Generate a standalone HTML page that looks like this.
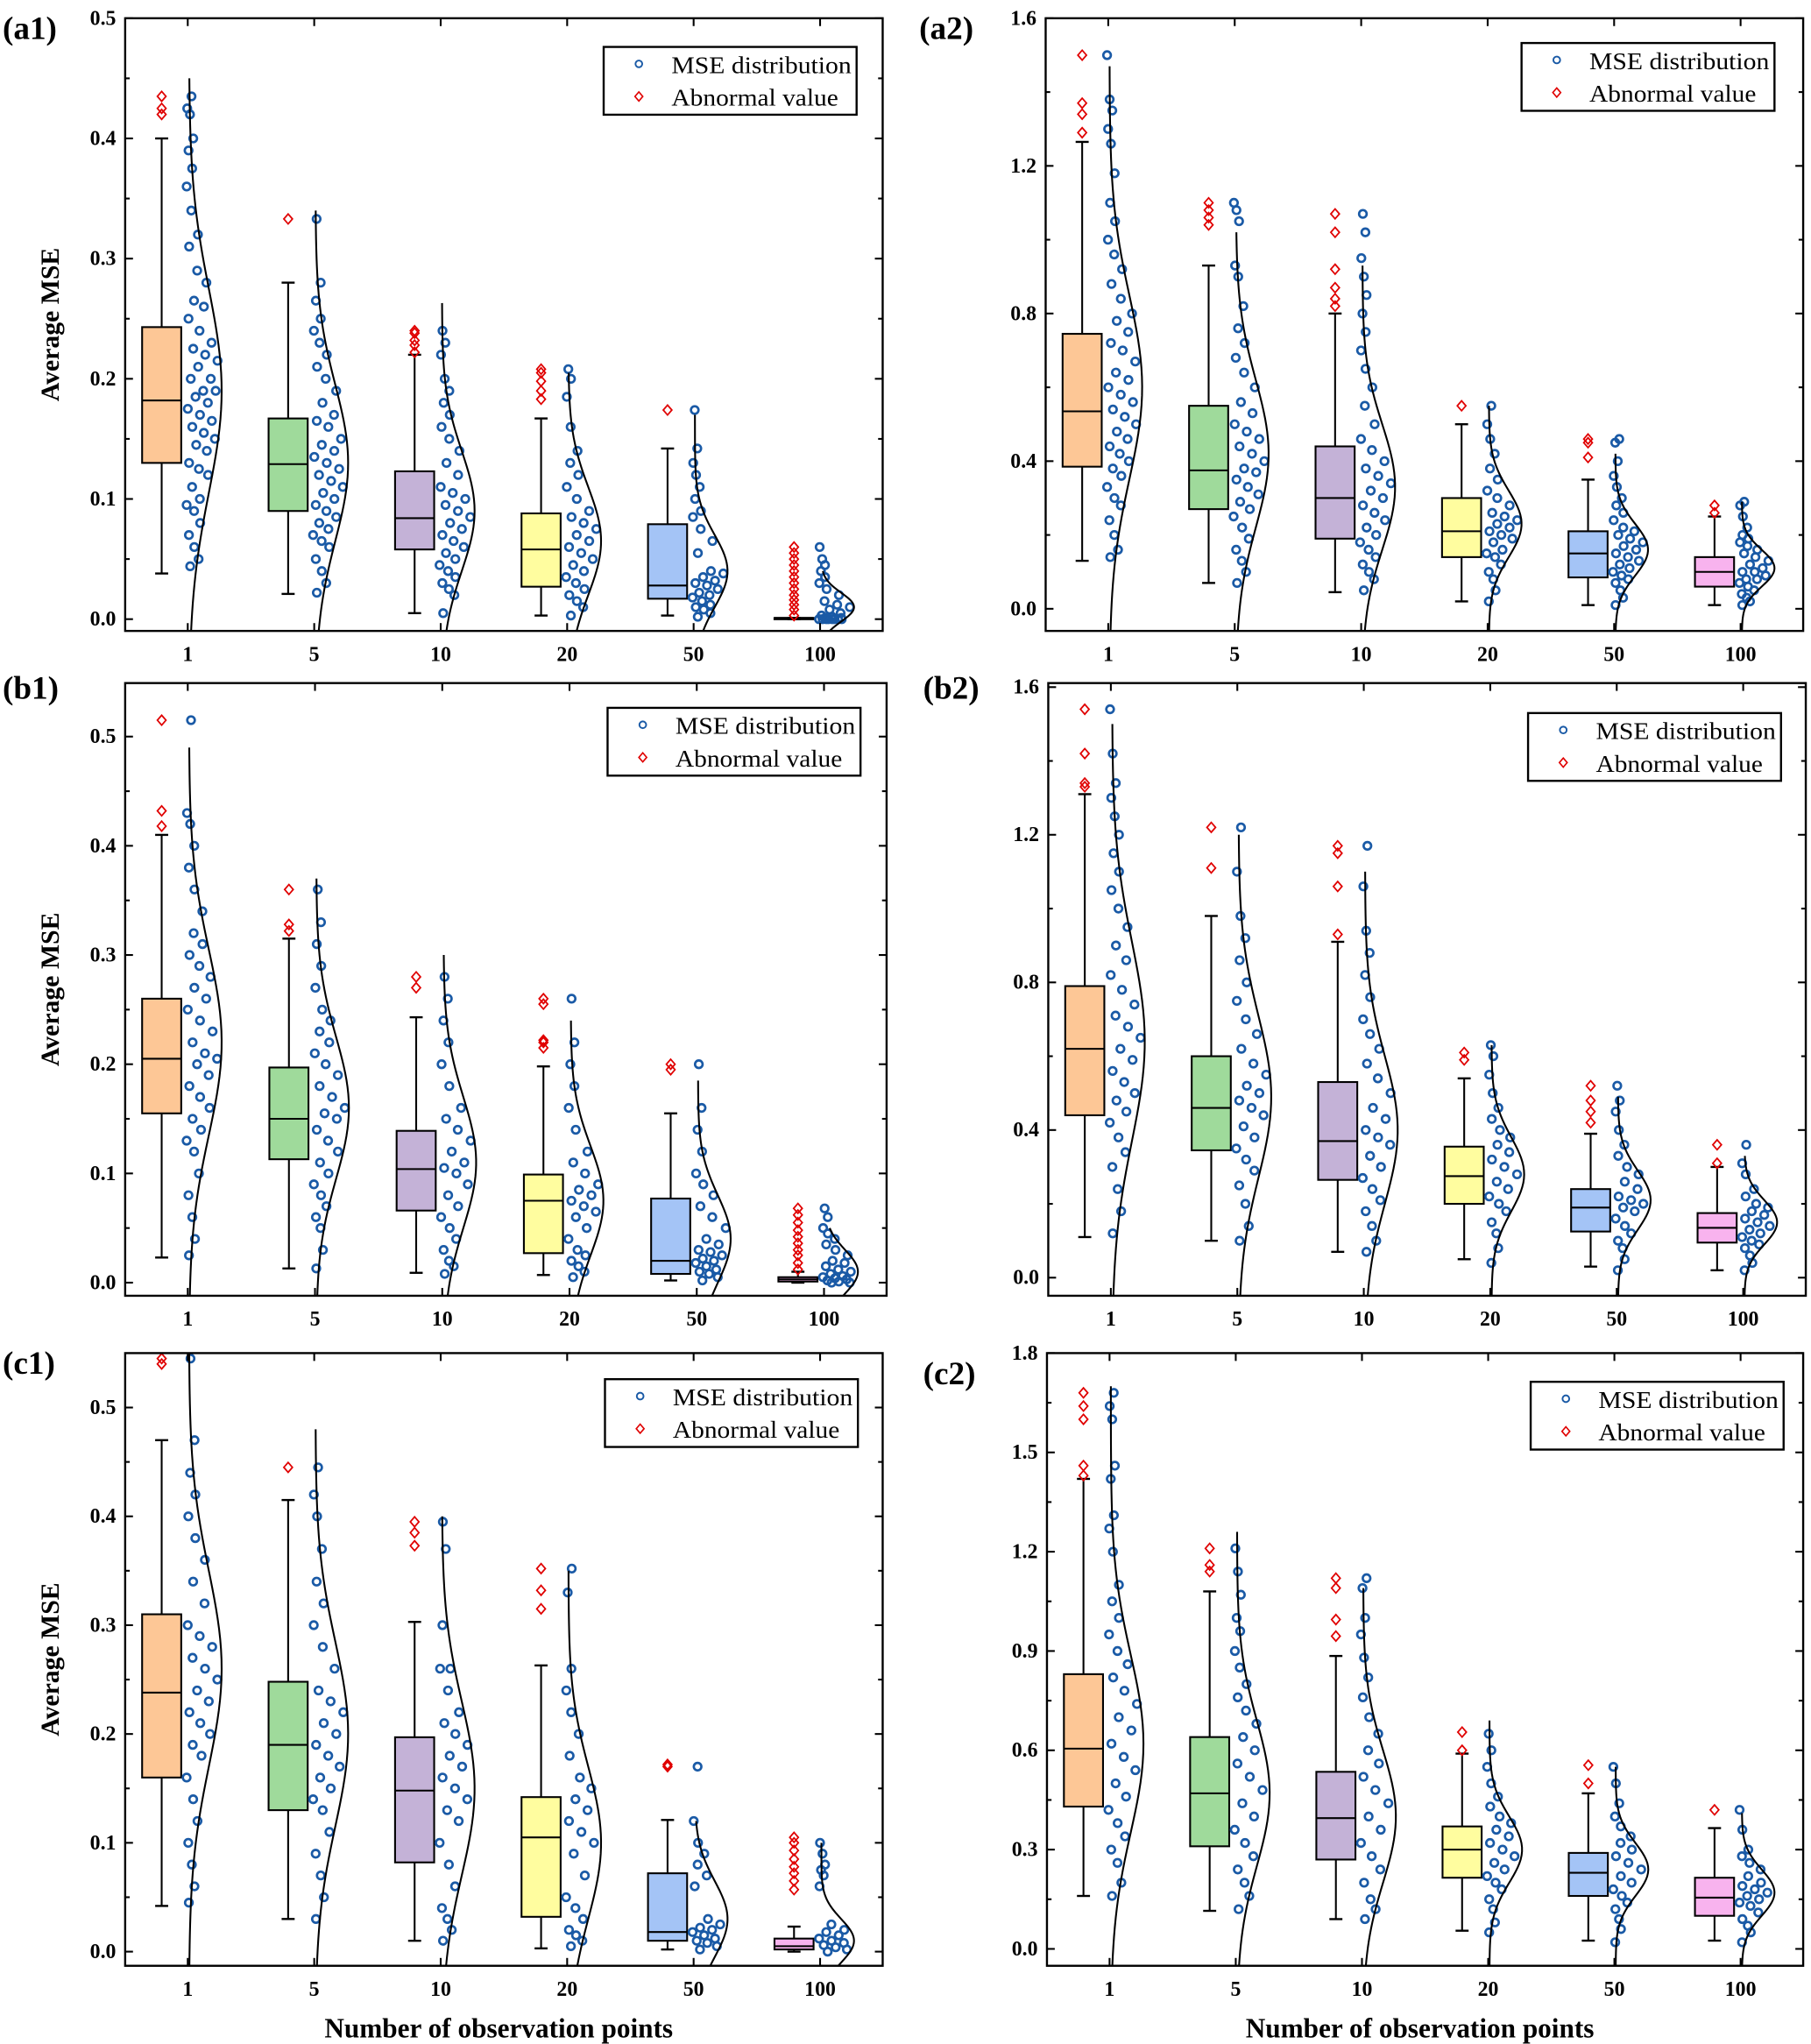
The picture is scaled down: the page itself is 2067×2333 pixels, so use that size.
<!DOCTYPE html>
<html><head><meta charset="utf-8"><style>
html,body{margin:0;padding:0;background:#fff;}
svg{display:block;}
</style></head><body>
<svg id="fig" width="2067" height="2333" viewBox="0 0 1389 1568" preserveAspectRatio="none" xmlns="http://www.w3.org/2000/svg" font-family="'Liberation Serif', serif"></svg>
<script>
const categories = ['1','5','10','20','50','100'];
const panelNames = ['a1','a2','b1','b2','c1','c2'];
const boxMin = [[.038,.021,.005,.003,.003,0],[.13,.07,.045,.02,.01,.01],[.023,.013,.009,.007,.002,0],[.11,.1,.07,.05,.03,.02],[.042,.03,.01,.003,.002,0],[.16,.115,.09,.055,.025,.025]];
const boxQ1 = [[.13,.09,.058,.027,.017,0],[.385,.27,.19,.14,.085,.06],[.155,.113,.066,.027,.008,.001],[.44,.345,.265,.2,.125,.095],[.16,.13,.082,.032,.01,.002],[.43,.31,.27,.215,.16,.1]];
const boxMed = [[.182,.129,.084,.058,.028,.001],[.535,.375,.30,.21,.15,.1],[.205,.15,.104,.075,.02,.003],[.62,.46,.37,.275,.19,.135],[.238,.19,.148,.105,.018,.005],[.605,.47,.395,.3,.23,.155]];
const boxQ3 = [[.243,.167,.123,.088,.079,.001],[.745,.55,.44,.30,.21,.14],[.26,.197,.139,.099,.077,.005],[.79,.60,.53,.355,.24,.175],[.31,.248,.197,.142,.072,.012],[.83,.64,.535,.37,.29,.215]];
const boxMax = [[.40,.28,.22,.167,.142,.001],[1.265,.93,.80,.50,.35,.25],[.41,.315,.243,.198,.155,.01],[1.31,.98,.91,.54,.39,.3],[.47,.415,.303,.263,.121,.023],[1.42,1.08,.885,.59,.47,.365]];
const outliers = [
 [[.42,.425,.435],[.333],[.222,.228,.232,.238,.24],[.183,.19,.198,.205,.208],[.174],[.003,.008,.012,.016,.02,.025,.03,.035,.04,.045,.05,.055,.06]],
 [[1.29,1.34,1.37,1.5],[1.04,1.06,1.08,1.1],[.82,.84,.87,.92,1.02,1.07],[.55],[.41,.45,.46],[.26,.28]],
 [[.418,.432,.515],[.322,.328,.36],[.27,.28],[.215,.22,.222,.255,.26],[.195,.2],[.012,.018,.025,.03,.036,.042,.048,.055,.062,.068]],
 [[1.33,1.34,1.42,1.54],[1.11,1.22],[.93,1.06,1.15,1.17],[.59,.61],[.42,.45,.48,.52],[.31,.36]],
 [[.54,.545],[.445],[.373,.385,.395],[.315,.332,.352],[.17,.172],[.057,.065,.072,.078,.085,.093,.1,.105]],
 [[1.43,1.46,1.6,1.64,1.68],[1.14,1.16,1.21],[.945,.995,1.09,1.12],[.6,.655],[.5,.555],[.42]]
];
const points = [
 [[.044,.05,.06,.07,.08,.09,.095,.1,.11,.12,.125,.13,.14,.145,.15,.155,.16,.165,.17,.175,.18,.185,.19,.19,.2,.2,.21,.215,.22,.225,.23,.24,.25,.26,.265,.28,.29,.31,.32,.34,.36,.375,.39,.4,.42,.425,.435],
  [.022,.03,.04,.05,.06,.065,.07,.075,.08,.085,.09,.095,.1,.105,.11,.115,.12,.125,.13,.135,.14,.145,.15,.16,.165,.17,.18,.19,.2,.21,.22,.23,.24,.25,.265,.28,.333],
  [.005,.02,.025,.03,.035,.04,.045,.05,.055,.06,.065,.07,.075,.08,.085,.09,.095,.1,.105,.11,.12,.13,.14,.15,.16,.17,.18,.19,.2,.22,.23,.24],
  [.003,.01,.015,.02,.025,.03,.035,.04,.045,.05,.055,.06,.065,.07,.075,.08,.085,.09,.1,.11,.12,.13,.14,.16,.185,.2,.208],
  [.002,.005,.008,.01,.012,.015,.018,.02,.022,.025,.028,.03,.032,.035,.038,.04,.055,.065,.075,.085,.09,.1,.11,.12,.13,.142,.174],
  [0,0,0,0,0,0,0,0,.001,.001,.002,.003,.005,.008,.01,.012,.015,.02,.025,.03,.035,.04,.045,.05,.06]],
 [[.14,.16,.2,.24,.28,.3,.33,.36,.38,.4,.42,.44,.46,.48,.5,.52,.54,.56,.58,.6,.62,.64,.67,.7,.72,.75,.78,.8,.84,.88,.92,.96,1.0,1.05,1.1,1.18,1.26,1.3,1.35,1.38,1.5],
  [.07,.1,.13,.16,.19,.22,.25,.27,.29,.31,.33,.35,.37,.38,.4,.42,.44,.46,.48,.5,.53,.56,.6,.64,.68,.72,.76,.82,.9,.93,1.05,1.08,1.1],
  [.05,.08,.1,.12,.14,.16,.18,.2,.22,.24,.26,.28,.3,.32,.34,.36,.38,.4,.43,.46,.5,.55,.6,.65,.7,.75,.8,.85,.9,.95,1.02,1.07],
  [.02,.05,.08,.1,.12,.14,.15,.16,.18,.19,.2,.21,.22,.23,.24,.25,.26,.28,.3,.32,.35,.38,.42,.46,.5,.55],
  [.01,.03,.05,.07,.08,.09,.1,.11,.12,.13,.14,.15,.16,.17,.18,.19,.2,.21,.22,.24,.26,.28,.3,.33,.36,.4,.45,.46],
  [.01,.02,.03,.04,.05,.06,.07,.08,.08,.09,.1,.1,.11,.12,.13,.14,.15,.16,.17,.18,.19,.2,.22,.25,.28,.29]],
 [[.025,.04,.06,.08,.1,.12,.13,.14,.15,.16,.17,.18,.19,.2,.205,.21,.22,.23,.24,.25,.26,.27,.28,.29,.3,.31,.32,.34,.36,.38,.4,.42,.43,.515],
  [.013,.03,.05,.06,.07,.08,.09,.1,.11,.12,.13,.14,.15,.155,.16,.17,.18,.19,.2,.21,.22,.23,.24,.25,.27,.29,.31,.33,.36],
  [.008,.015,.02,.03,.04,.05,.06,.07,.08,.09,.1,.105,.11,.12,.13,.14,.15,.16,.18,.2,.22,.24,.26,.28],
  [.005,.01,.015,.02,.025,.03,.04,.05,.06,.065,.07,.075,.08,.085,.09,.1,.11,.12,.14,.16,.18,.2,.22,.26],
  [.002,.005,.008,.01,.012,.015,.018,.02,.022,.025,.028,.03,.035,.04,.05,.06,.07,.08,.09,.1,.12,.14,.16,.2],
  [0,0,.001,.002,.003,.004,.005,.006,.008,.01,.012,.015,.018,.02,.025,.03,.035,.04,.045,.05,.06,.068]],
 [[.12,.18,.24,.3,.34,.38,.42,.45,.48,.5,.53,.56,.59,.62,.65,.68,.71,.74,.78,.82,.86,.9,.95,1.0,1.05,1.1,1.15,1.2,1.25,1.3,1.34,1.42,1.54],
  [.1,.14,.2,.25,.29,.32,.35,.38,.41,.44,.46,.48,.5,.52,.55,.58,.62,.66,.7,.75,.8,.86,.92,.98,1.1,1.22],
  [.07,.1,.14,.18,.21,.24,.27,.3,.33,.36,.38,.4,.43,.46,.5,.54,.58,.62,.66,.7,.76,.82,.88,.94,1.06,1.17],
  [.04,.08,.12,.15,.18,.2,.22,.24,.26,.28,.3,.32,.34,.36,.38,.4,.43,.46,.5,.55,.6,.63],
  [.02,.05,.08,.1,.12,.14,.16,.18,.19,.2,.21,.22,.24,.26,.28,.3,.33,.36,.4,.45,.48,.52],
  [.02,.04,.06,.08,.09,.1,.11,.12,.13,.14,.15,.16,.17,.18,.19,.2,.22,.24,.28,.31,.36]],
 [[.045,.06,.08,.1,.12,.14,.16,.18,.19,.2,.21,.22,.23,.24,.25,.26,.27,.28,.29,.3,.32,.34,.36,.38,.4,.42,.44,.47,.545],
  [.03,.05,.07,.09,.11,.13,.14,.15,.16,.17,.18,.19,.2,.21,.22,.23,.24,.26,.28,.3,.32,.34,.37,.4,.42,.445],
  [.01,.02,.03,.04,.06,.08,.1,.12,.13,.14,.15,.16,.17,.18,.19,.2,.21,.22,.24,.26,.26,.3,.37,.395],
  [.005,.01,.015,.02,.03,.04,.05,.07,.09,.1,.11,.12,.13,.14,.15,.16,.18,.2,.22,.24,.26,.33,.352],
  [.002,.005,.008,.01,.012,.015,.018,.02,.022,.025,.03,.06,.07,.08,.09,.1,.12,.17],
  [0,.002,.004,.006,.008,.01,.012,.015,.018,.02,.025,.06,.07,.075,.08,.09,.1]],
 [[.16,.2,.26,.3,.34,.38,.42,.46,.5,.54,.58,.62,.66,.7,.74,.78,.82,.86,.9,.95,1.0,1.05,1.1,1.2,1.27,1.31,1.42,1.46,1.6,1.64,1.68],
  [.12,.16,.2,.24,.28,.32,.36,.4,.44,.48,.52,.56,.6,.64,.68,.72,.76,.8,.85,.9,.96,1.0,1.07,1.14,1.21],
  [.09,.12,.15,.2,.24,.28,.32,.36,.4,.44,.48,.52,.56,.6,.65,.7,.76,.82,.88,.95,1.0,1.09,1.12],
  [.05,.08,.12,.15,.18,.2,.22,.24,.26,.28,.3,.32,.34,.36,.38,.4,.43,.46,.5,.55,.6,.65],
  [.02,.06,.09,.12,.14,.16,.18,.2,.22,.24,.26,.28,.3,.32,.34,.37,.4,.44,.5,.55],
  [.02,.05,.07,.09,.11,.13,.14,.15,.16,.17,.18,.19,.2,.22,.24,.26,.28,.3,.36,.42]]
];
const curveMu = [[.19,.13,.09,.065,.04,.01],[.6,.42,.33,.23,.16,.11],[.22,.16,.11,.075,.04,.01],[.64,.49,.4,.28,.21,.15],[.26,.2,.15,.1,.03,.01],[.62,.47,.4,.3,.24,.17]];
const curveSd = [[.085,.065,.05,.045,.03,.012],[.25,.2,.17,.09,.07,.05],[.085,.065,.06,.05,.04,.02],[.27,.22,.2,.1,.08,.06],[.09,.085,.08,.07,.035,.02],[.27,.22,.2,.1,.08,.07]];
const curveTop = [[.45,.34,.263,.205,.17,.04],[1.47,1.02,.93,.55,.42,.29],[.49,.37,.3,.24,.185,.05],[1.5,1.2,1.1,.63,.49,.33],[.55,.48,.4,.35,.12,.1],[1.7,1.26,1.09,.69,.55,.41]];
const yTicks = [[0,.1,.2,.3,.4,.5],[0,.4,.8,1.2,1.6],[0,.1,.2,.3,.4,.5],[0,.4,.8,1.2,1.6],[0,.1,.2,.3,.4,.5],[0,.3,.6,.9,1.2,1.5,1.8]];
const yTickLabels = [['0.0','0.1','0.2','0.3','0.4','0.5'],['0.0','0.4','0.8','1.2','1.6'],['0.0','0.1','0.2','0.3','0.4','0.5'],['0.0','0.4','0.8','1.2','1.6'],['0.0','0.1','0.2','0.3','0.4','0.5'],['0.0','0.3','0.6','0.9','1.2','1.5','1.8']];
const yDomains = [[-.0098,.5],[-.06,1.6],[-.012,.549],[-.049,1.611],[-.013,.55],[-.051,1.8]];

const rects = [[96,14,677,484],[802,14,1383,484],[96,524,680,994],[804,524,1385,994],[96,1038,677,1508],[803,1038,1383,1508]];
const legendPos = [[463,36],[1167,33],[466,543],[1172,547],[464,1058],[1174,1060]];
const labelPos = [[2,30],[705,30],[2,536],[708,536],[2,1054],[708,1062]];
const fills = ['#FDC796','#9FDA9B','#C4B2D7','#FFFD9F','#A4C4F6','#F8B3EE'];
const NS = 'http://www.w3.org/2000/svg';
const svg = document.getElementById('fig');
function mk(tag, attrs, parent){const e=document.createElementNS(NS,tag);for(const k in attrs)e.setAttribute(k,attrs[k]);(parent||svg).appendChild(e);return e;}

panelNames.forEach((pn, p) => {
  const [L,T,R,B] = rects[p];
  const [d0,d1] = yDomains[p];
  const y = v => B - (v - d0) / (d1 - d0) * (B - T);
  const step = (R - L - 96) / 5;
  const xc = i => L + 48 + i * step;
  const g = mk('g', {});
  
  

  categories.forEach((c, i) => {
    const bw = 30, cx = xc(i) - 20;
    const wh = mk('g', {}, g);
    
    
    mk('line', {x1:cx,x2:cx,y1:y(boxMax[p][i]),y2:y(boxQ3[p][i]),stroke:'#000','stroke-width':1.4}, wh);
    mk('line', {x1:cx,x2:cx,y1:y(boxQ1[p][i]),y2:y(boxMin[p][i]),stroke:'#000','stroke-width':1.4}, wh);
    mk('line', {x1:cx-5,x2:cx+5,y1:y(boxMax[p][i]),y2:y(boxMax[p][i]),stroke:'#000','stroke-width':1.6}, wh);
    mk('line', {x1:cx-5,x2:cx+5,y1:y(boxMin[p][i]),y2:y(boxMin[p][i]),stroke:'#000','stroke-width':1.6}, wh);
    const box = mk('rect', {x:cx-bw/2,y:y(boxQ3[p][i]),width:bw,height:Math.max(1,y(boxQ1[p][i])-y(boxQ3[p][i])),fill:fills[i],stroke:'#000','stroke-width':1.4}, g);
    
    
    mk('line', {x1:cx-bw/2,x2:cx+bw/2,y1:y(boxMed[p][i]),y2:y(boxMed[p][i]),stroke:'#000','stroke-width':1.4}, g);
    outliers[p][i].forEach(v => {
      const yy = y(v);
      const d = mk('path', {d:`M${cx},${yy-3.8}L${cx+3.3},${yy}L${cx},${yy+3.8}L${cx-3.3},${yy}Z`,fill:'none',stroke:'#e00000','stroke-width':1.2}, g);
      
      
    });
    const sd = curveSd[p][i], mu = curveMu[p][i];
    points[p][i].forEach((v, k) => {
      const f = (k * 0.61803398875 + 0.3) % 1;
      const z = (v - mu) / sd;
      const dx = -1 + f * (5 + 20 * Math.exp(-z * z / 2));
      const pt = mk('circle', {cx:xc(i)+dx, cy:y(v), r:2.9, fill:'none', stroke:'#1a5aa6','stroke-width':1.8}, g);
      
      
    });
    let dstr = '';
    const vLow = d0, vHigh = curveTop[p][i];
    for (let s = 0; s <= 60; s++) {
      const v = vLow + (vHigh - vLow) * s / 60;
      const z = (v - mu) / sd;
      const xx = xc(i) + 1 + 25 * Math.exp(-z * z / 2);
      dstr += (s ? 'L' : 'M') + xx.toFixed(2) + ',' + y(v).toFixed(2);
    }
    const cv = mk('path', {d:dstr, fill:'none', stroke:'#000', 'stroke-width':1.4}, g);
    
    
  });

  const fr = mk('rect', {x:L,y:T,width:R-L,height:B-T,fill:'none',stroke:'#000','stroke-width':1.6}, g);
  
  
  const yt = yTicks[p];
  const minorStep = (yt[1] - yt[0]) / 2;
  for (let v = 0; v <= yt[yt.length-1] + 1e-9; v += minorStep) {
    const yy = y(v);
    if (yy < T - 0.5) continue;
    const major = Math.abs(Math.round(v / (yt[1]-yt[0])) * (yt[1]-yt[0]) - v) < 1e-6;
    const len = major ? 6 : 3.5;
    mk('line', {x1:L,x2:L+len,y1:yy,y2:yy,stroke:'#000','stroke-width':1.4}, g);
    mk('line', {x1:R,x2:R-len,y1:yy,y2:yy,stroke:'#000','stroke-width':1.4}, g);
  }
  yt.forEach((v, k) => {
    const t = mk('text', {x:L-7, y:y(v)+5, 'text-anchor':'end','font-size':16,'font-weight':'bold'}, g);
    t.textContent = yTickLabels[p][k];
    
    
  });
  categories.forEach((c, i) => {
    mk('line', {x1:xc(i),x2:xc(i),y1:B,y2:B-6,stroke:'#000','stroke-width':1.4}, g);
    mk('line', {x1:xc(i),x2:xc(i),y1:T,y2:T+6,stroke:'#000','stroke-width':1.4}, g);
    const t = mk('text', {x:xc(i), y:B+23, 'text-anchor':'middle','font-size':16,'font-weight':'bold'}, g);
    t.textContent = c;
    
    
  });
  const [lx, ly] = legendPos[p];
  const lg = mk('g', {}, g);
  
  
  mk('rect', {x:lx,y:ly,width:194,height:52,fill:'#fff',stroke:'#000','stroke-width':1.6}, lg);
  mk('circle', {cx:lx+27,cy:ly+13,r:2.6,fill:'none',stroke:'#1a5aa6','stroke-width':1.3}, lg);
  mk('path', {d:`M${lx+27},${ly+34.5}L${lx+30},${ly+38}L${lx+27},${ly+41.5}L${lx+24},${ly+38}Z`,fill:'none',stroke:'#e00000','stroke-width':1.1}, lg);
  const t1 = mk('text', {x:lx+52,y:ly+20,'font-size':18.5,textLength:138,lengthAdjust:'spacingAndGlyphs'}, lg); t1.textContent = 'MSE distribution';
  
  
  const t2 = mk('text', {x:lx+52,y:ly+45,'font-size':18.5,textLength:128,lengthAdjust:'spacingAndGlyphs'}, lg); t2.textContent = 'Abnormal value';
  
  
  const pl = mk('text', {x:labelPos[p][0], y:labelPos[p][1], 'font-size':25,'font-weight':'bold'}, g);
  pl.textContent = '(' + pn + ')';
  
  
  if (p % 2 === 0) {
    const cy = (T + B) / 2;
    const yt2 = mk('text', {x:0,y:0,'font-size':20,'font-weight':'bold','text-anchor':'middle',transform:`translate(45,${cy}) rotate(-90)`}, g);
    yt2.textContent = 'Average MSE';
    
    
  }
  if (p >= 4) {
    const xt = mk('text', {x:(L+R)/2 - 4, y:1563, 'font-size':21,'font-weight':'bold','text-anchor':'middle'}, g);
    xt.textContent = 'Number of observation points';
    
    
  }
});
</script>
</body></html>
